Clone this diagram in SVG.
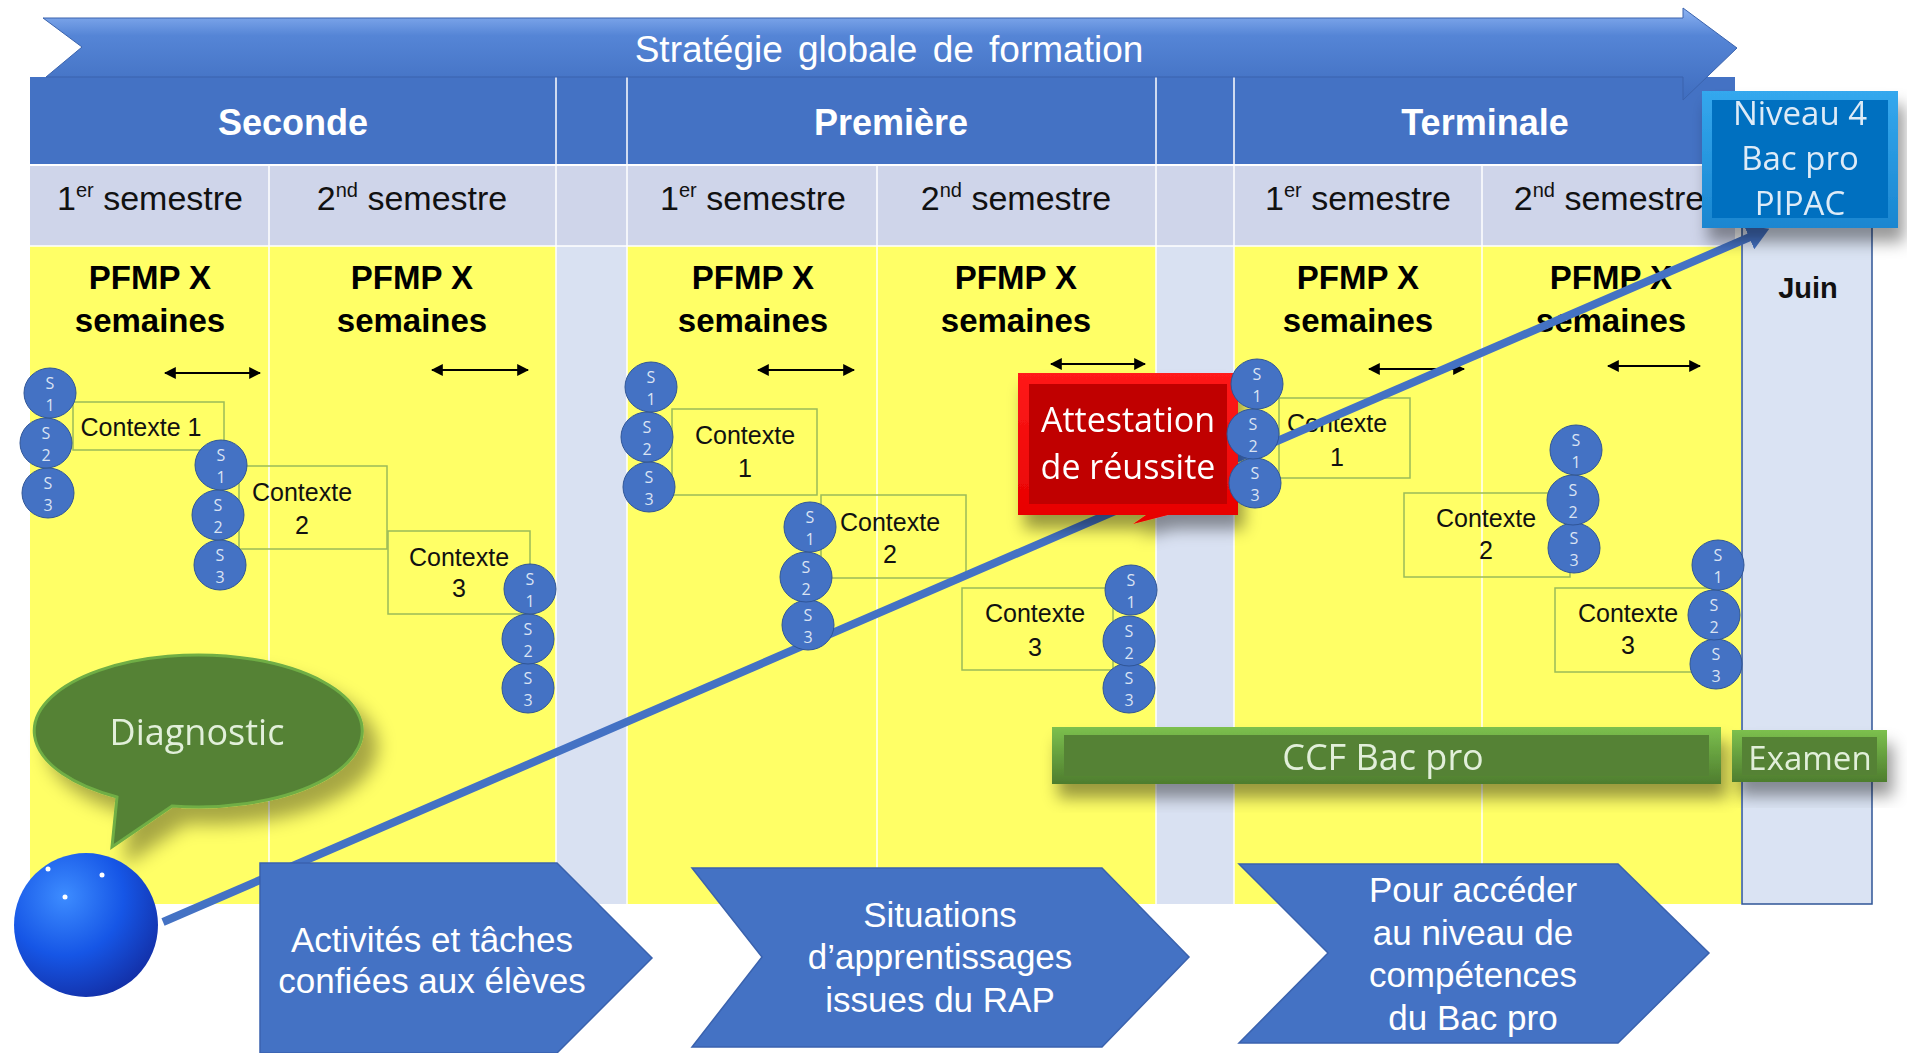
<svg xmlns="http://www.w3.org/2000/svg" width="1907" height="1053" viewBox="0 0 1907 1053">
<defs>
<style>
.sans{font-family:"Liberation Sans",Arial,sans-serif}
.geo{font-family:"Open Sans","DejaVu Sans",sans-serif}
.hdr{font-size:36px;font-weight:bold;fill:#fff;text-anchor:middle}
.sem{font-size:34px;fill:#111;text-anchor:middle}
.pfmp{font-size:33px;font-weight:bold;fill:#000;text-anchor:middle}
.ctx{fill:none;stroke:#9BBB59;stroke-width:1.5}
.ctxt{font-size:25px;fill:#111;text-anchor:middle}
.dbl{stroke:#000;stroke-width:2;marker-start:url(#ah);marker-end:url(#ah)}
.sc{fill:#4472C4;stroke:#2F5597;stroke-width:1}
.st{font-size:16px;fill:#DAE3F3;text-anchor:middle}
.chev{fill:#4472C4;stroke:#3A62AE;stroke-width:1.5}
.chevt{font-size:35px;fill:#fff;text-anchor:middle}
.wl{stroke:#fff;stroke-width:1.5}
</style>
<marker id="ah" viewBox="0 0 10 10" refX="9" refY="5" markerWidth="6" markerHeight="6" orient="auto-start-reverse" markerUnits="strokeWidth">
<path d="M0,0 L10,5 L0,10 z" fill="#000"/>
</marker>
<marker id="bh" viewBox="0 0 22 26" refX="1" refY="13" markerWidth="22" markerHeight="26" orient="auto" markerUnits="userSpaceOnUse">
<path d="M0,0 L22,13 L0,26 z" fill="#4472C4"/>
</marker>
<linearGradient id="gBan" x1="0" y1="0" x2="0" y2="1">
<stop offset="0" stop-color="#8DB3F2"/>
<stop offset="0.3" stop-color="#5585D6"/>
<stop offset="1" stop-color="#3F6DBF"/>
</linearGradient>
<radialGradient id="gBall" cx="0.35" cy="0.3" r="0.75">
<stop offset="0" stop-color="#3D8CFF"/>
<stop offset="0.55" stop-color="#1656E6"/>
<stop offset="1" stop-color="#1330A8"/>
</radialGradient>
<linearGradient id="gGreen" x1="0" y1="0" x2="0" y2="1">
<stop offset="0" stop-color="#7CC04E"/>
<stop offset="1" stop-color="#4E7D2E"/>
</linearGradient>
<linearGradient id="gRed" x1="0" y1="0" x2="0" y2="1">
<stop offset="0" stop-color="#FF1A1A"/>
<stop offset="1" stop-color="#E60000"/>
</linearGradient>
<linearGradient id="gNiv" x1="0" y1="0" x2="0" y2="1">
<stop offset="0" stop-color="#34A8EE"/>
<stop offset="1" stop-color="#1A86D0"/>
</linearGradient>
<filter id="sh" x="-20%" y="-30%" width="150%" height="180%">
<feDropShadow dx="6" dy="14" stdDeviation="8" flood-color="#000" flood-opacity="0.4"/>
</filter>
<filter id="shd" x="-20%" y="-30%" width="150%" height="180%">
<feDropShadow dx="14" dy="16" stdDeviation="9" flood-color="#000" flood-opacity="0.35"/>
</filter>
</defs>

<rect width="1907" height="1053" fill="#fff"/>

<g id="table">
<rect x="30" y="77" width="1705" height="87" fill="#4472C4"/>
<rect x="30" y="166" width="1705" height="80" fill="#CFD5EA"/>
<rect x="30" y="246" width="1711" height="658" fill="#FFFF66"/>
<rect x="556" y="246" width="71" height="658" fill="#D9E1F2"/>
<rect x="1156" y="246" width="78" height="658" fill="#D9E1F2"/>
<line class="wl" x1="30" y1="165" x2="1735" y2="165"/>
<line class="wl" x1="556" y1="77" x2="556" y2="904"/>
<line class="wl" x1="627" y1="77" x2="627" y2="904"/>
<line class="wl" x1="1156" y1="77" x2="1156" y2="904"/>
<line class="wl" x1="1234" y1="77" x2="1234" y2="904"/>
<line class="wl" x1="269" y1="166" x2="269" y2="904"/>
<line class="wl" x1="877" y1="166" x2="877" y2="904"/>
<line class="wl" x1="1482" y1="166" x2="1482" y2="904"/>
<line class="wl" x1="30" y1="246" x2="1735" y2="246"/>
</g>

<g id="juin">
<rect x="1742" y="200" width="130" height="704" fill="#DAE3F3" stroke="#2F5597" stroke-width="1.5"/>
<text class="sans" x="1808" y="298" font-size="29" font-weight="bold" text-anchor="middle" fill="#111">Juin</text>
</g>

<g id="banner">
<path d="M43 18 L1683 18 L1683 8 L1737 48 L1683 100 L1683 77 L46 77 L82 47 Z" fill="url(#gBan)" stroke="#3A63AD" stroke-width="1"/>
<text class="sans" x="889" y="62" font-size="37" fill="#fff" text-anchor="middle" word-spacing="5">Stratégie globale de formation</text>
</g>

<g id="headers">
<text class="sans hdr" x="293" y="135">Seconde</text>
<text class="sans hdr" x="891" y="135">Première</text>
<text class="sans hdr" x="1485" y="135">Terminale</text>
</g>

<g id="semestres">
<text class="sans sem" x="150" y="210">1<tspan font-size="20" dy="-13">er</tspan><tspan dy="13"> semestre</tspan></text>
<text class="sans sem" x="412" y="210">2<tspan font-size="20" dy="-13">nd</tspan><tspan dy="13"> semestre</tspan></text>
<text class="sans sem" x="753" y="210">1<tspan font-size="20" dy="-13">er</tspan><tspan dy="13"> semestre</tspan></text>
<text class="sans sem" x="1016" y="210">2<tspan font-size="20" dy="-13">nd</tspan><tspan dy="13"> semestre</tspan></text>
<text class="sans sem" x="1358" y="210">1<tspan font-size="20" dy="-13">er</tspan><tspan dy="13"> semestre</tspan></text>
<text class="sans sem" x="1609" y="210">2<tspan font-size="20" dy="-13">nd</tspan><tspan dy="13"> semestre</tspan></text>
</g>

<g id="pfmp">
<text class="sans pfmp" x="150" y="289">PFMP X</text><text class="sans pfmp" x="150" y="332">semaines</text>
<text class="sans pfmp" x="412" y="289">PFMP X</text><text class="sans pfmp" x="412" y="332">semaines</text>
<text class="sans pfmp" x="753" y="289">PFMP X</text><text class="sans pfmp" x="753" y="332">semaines</text>
<text class="sans pfmp" x="1016" y="289">PFMP X</text><text class="sans pfmp" x="1016" y="332">semaines</text>
<text class="sans pfmp" x="1358" y="289">PFMP X</text><text class="sans pfmp" x="1358" y="332">semaines</text>
<text class="sans pfmp" x="1611" y="289">PFMP X</text><text class="sans pfmp" x="1611" y="332">semaines</text>
</g>

<g id="durees">
<line class="dbl" x1="165" y1="373" x2="260" y2="373"/>
<line class="dbl" x1="432" y1="370" x2="528" y2="370"/>
<line class="dbl" x1="758" y1="370" x2="854" y2="370"/>
<line class="dbl" x1="1051" y1="364" x2="1145" y2="364"/>
<line class="dbl" x1="1369" y1="369" x2="1464" y2="369"/>
<line class="dbl" x1="1608" y1="366" x2="1700" y2="366"/>
</g>

<g id="contextes">
<rect class="ctx" x="73" y="402" width="151" height="48"/>
<text class="sans ctxt" x="141" y="436">Contexte  1</text>
<rect class="ctx" x="239" y="466" width="148" height="83"/>
<text class="sans ctxt" x="302" y="501">Contexte</text><text class="sans ctxt" x="302" y="534">2</text>
<rect class="ctx" x="388" y="531" width="142" height="83"/>
<text class="sans ctxt" x="459" y="566">Contexte</text><text class="sans ctxt" x="459" y="597">3</text>

<rect class="ctx" x="672" y="409" width="145" height="86"/>
<text class="sans ctxt" x="745" y="444">Contexte</text><text class="sans ctxt" x="745" y="477">1</text>
<rect class="ctx" x="821" y="495" width="145" height="83"/>
<text class="sans ctxt" x="890" y="531">Contexte</text><text class="sans ctxt" x="890" y="563">2</text>
<rect class="ctx" x="962" y="588" width="151" height="82"/>
<text class="sans ctxt" x="1035" y="622">Contexte</text><text class="sans ctxt" x="1035" y="656">3</text>

<rect class="ctx" x="1279" y="398" width="131" height="80"/>
<text class="sans ctxt" x="1337" y="432">Contexte</text><text class="sans ctxt" x="1337" y="466">1</text>
<rect class="ctx" x="1404" y="493" width="166" height="84"/>
<text class="sans ctxt" x="1486" y="527">Contexte</text><text class="sans ctxt" x="1486" y="559">2</text>
<rect class="ctx" x="1555" y="588" width="157" height="84"/>
<text class="sans ctxt" x="1628" y="622">Contexte</text><text class="sans ctxt" x="1628" y="654">3</text>
</g>

<g id="connectors">
<line x1="163" y1="922" x2="1750" y2="237" stroke="#4472C4" stroke-width="8" marker-end="url(#bh)"/>
</g>

<g id="situations">
<g id="s-sec-1"><ellipse class="sc" cx="48" cy="493" rx="26" ry="25"/><text class="geo st" x="48" y="489">S</text><text class="geo st" x="48" y="511">3</text>
<ellipse class="sc" cx="46" cy="443" rx="26" ry="25"/><text class="geo st" x="46" y="439">S</text><text class="geo st" x="46" y="461">2</text>
<ellipse class="sc" cx="50" cy="393" rx="26" ry="25"/><text class="geo st" x="50" y="389">S</text><text class="geo st" x="50" y="411">1</text></g>
<g id="s-sec-2"><ellipse class="sc" cx="220" cy="565" rx="26" ry="25"/><text class="geo st" x="220" y="561">S</text><text class="geo st" x="220" y="583">3</text>
<ellipse class="sc" cx="218" cy="515" rx="26" ry="25"/><text class="geo st" x="218" y="511">S</text><text class="geo st" x="218" y="533">2</text>
<ellipse class="sc" cx="221" cy="465" rx="26" ry="25"/><text class="geo st" x="221" y="461">S</text><text class="geo st" x="221" y="483">1</text></g>
<g id="s-sec-3"><ellipse class="sc" cx="528" cy="688" rx="26" ry="25"/><text class="geo st" x="528" y="684">S</text><text class="geo st" x="528" y="706">3</text>
<ellipse class="sc" cx="528" cy="639" rx="26" ry="25"/><text class="geo st" x="528" y="635">S</text><text class="geo st" x="528" y="657">2</text>
<ellipse class="sc" cx="530" cy="589" rx="26" ry="25"/><text class="geo st" x="530" y="585">S</text><text class="geo st" x="530" y="607">1</text></g>

<g id="s-pre-1"><ellipse class="sc" cx="649" cy="487" rx="26" ry="25"/><text class="geo st" x="649" y="483">S</text><text class="geo st" x="649" y="505">3</text>
<ellipse class="sc" cx="647" cy="437" rx="26" ry="25"/><text class="geo st" x="647" y="433">S</text><text class="geo st" x="647" y="455">2</text>
<ellipse class="sc" cx="651" cy="387" rx="26" ry="25"/><text class="geo st" x="651" y="383">S</text><text class="geo st" x="651" y="405">1</text></g>
<g id="s-pre-2"><ellipse class="sc" cx="808" cy="625" rx="26" ry="25"/><text class="geo st" x="808" y="621">S</text><text class="geo st" x="808" y="643">3</text>
<ellipse class="sc" cx="806" cy="577" rx="26" ry="25"/><text class="geo st" x="806" y="573">S</text><text class="geo st" x="806" y="595">2</text>
<ellipse class="sc" cx="810" cy="527" rx="26" ry="25"/><text class="geo st" x="810" y="523">S</text><text class="geo st" x="810" y="545">1</text></g>
<g id="s-pre-3"><ellipse class="sc" cx="1129" cy="688" rx="26" ry="25"/><text class="geo st" x="1129" y="684">S</text><text class="geo st" x="1129" y="706">3</text>
<ellipse class="sc" cx="1129" cy="641" rx="26" ry="25"/><text class="geo st" x="1129" y="637">S</text><text class="geo st" x="1129" y="659">2</text>
<ellipse class="sc" cx="1131" cy="590" rx="26" ry="25"/><text class="geo st" x="1131" y="586">S</text><text class="geo st" x="1131" y="608">1</text></g>
</g>

<g id="attestation" filter="url(#sh)">
<path d="M1018 373 H1238 V515 H1168 L1133 524 L1146 515 H1018 Z" fill="url(#gRed)"/>
<rect x="1029" y="384" width="198" height="120" fill="#C00000"/>
<text class="geo" x="1128" y="432" font-size="34" fill="#fff" text-anchor="middle">Attestation</text>
<text class="geo" x="1128" y="479" font-size="34" fill="#fff" text-anchor="middle">de réussite</text>
</g>

<g id="situations-terminale">
<g id="s-ter-1"><ellipse class="sc" cx="1255" cy="483" rx="26" ry="25"/><text class="geo st" x="1255" y="479">S</text><text class="geo st" x="1255" y="501">3</text>
<ellipse class="sc" cx="1253" cy="434" rx="26" ry="25"/><text class="geo st" x="1253" y="430">S</text><text class="geo st" x="1253" y="452">2</text>
<ellipse class="sc" cx="1257" cy="384" rx="26" ry="25"/><text class="geo st" x="1257" y="380">S</text><text class="geo st" x="1257" y="402">1</text></g>
<g id="s-ter-2"><ellipse class="sc" cx="1574" cy="548" rx="26" ry="25"/><text class="geo st" x="1574" y="544">S</text><text class="geo st" x="1574" y="566">3</text>
<ellipse class="sc" cx="1573" cy="500" rx="26" ry="25"/><text class="geo st" x="1573" y="496">S</text><text class="geo st" x="1573" y="518">2</text>
<ellipse class="sc" cx="1576" cy="450" rx="26" ry="25"/><text class="geo st" x="1576" y="446">S</text><text class="geo st" x="1576" y="468">1</text></g>
<g id="s-ter-3"><ellipse class="sc" cx="1716" cy="664" rx="26" ry="25"/><text class="geo st" x="1716" y="660">S</text><text class="geo st" x="1716" y="682">3</text>
<ellipse class="sc" cx="1714" cy="615" rx="26" ry="25"/><text class="geo st" x="1714" y="611">S</text><text class="geo st" x="1714" y="633">2</text>
<ellipse class="sc" cx="1718" cy="565" rx="26" ry="25"/><text class="geo st" x="1718" y="561">S</text><text class="geo st" x="1718" y="583">1</text></g>
</g>

<g id="ccf" filter="url(#sh)">
<rect x="1052" y="727" width="669" height="57" fill="url(#gGreen)"/>
<rect x="1064" y="735" width="645" height="41" fill="#548235"/>
<text class="geo" x="1383" y="770" font-size="36" fill="#E2EFDA" text-anchor="middle">CCF Bac pro</text>
</g>
<g id="examen" filter="url(#sh)">
<rect x="1732" y="730" width="155" height="52" fill="url(#gGreen)"/>
<rect x="1742" y="737" width="135" height="38" fill="#548235"/>
<text class="geo" x="1810" y="770" font-size="33" fill="#E2EFDA" text-anchor="middle">Examen</text>
</g>

<g id="niveau" filter="url(#sh)">
<rect x="1702" y="91" width="196" height="137" fill="url(#gNiv)"/>
<rect x="1712" y="100" width="176" height="118" fill="#0070C0"/>
<text class="geo" x="1800" y="125" font-size="33" fill="#DEEBF7" text-anchor="middle">Niveau 4</text>
<text class="geo" x="1800" y="170" font-size="33" fill="#DEEBF7" text-anchor="middle">Bac pro</text>
<text class="geo" x="1800" y="215" font-size="33" fill="#DEEBF7" text-anchor="middle">PIPAC</text>
</g>

<g id="diagnostic" filter="url(#shd)">
<path d="M172 806 A164 76 0 1 0 117 797 L112 847 Z" fill="#548235" stroke="#6FAE45" stroke-width="3"/>
<text class="geo" x="197" y="745" font-size="36" fill="#E2EFDA" text-anchor="middle">Diagnostic</text>
</g>

<g id="chevrons">
<g id="chev-1"><path class="chev" d="M260 863 H557 L652 958 L557 1053 H260 Z"/>
<text class="sans chevt" x="432" y="952">Activités et tâches</text>
<text class="sans chevt" x="432" y="993">confiées aux élèves</text></g>
<g id="chev-2"><path class="chev" d="M692 868 H1102 L1189 957 L1102 1047 H692 L762 957 Z"/>
<text class="sans chevt" x="940" y="927">Situations</text>
<text class="sans chevt" x="940" y="969">d’apprentissages</text>
<text class="sans chevt" x="940" y="1012">issues du RAP</text></g>
<g id="chev-3"><path class="chev" d="M1239 864 H1618 L1709 953 L1618 1043 H1239 L1328 953 Z"/>
<text class="sans chevt" x="1473" y="902">Pour accéder</text>
<text class="sans chevt" x="1473" y="945">au niveau de</text>
<text class="sans chevt" x="1473" y="987">compétences</text>
<text class="sans chevt" x="1473" y="1030">du Bac pro</text></g>
</g>

<g id="ball">
<circle cx="86" cy="925" r="72" fill="url(#gBall)"/>
<circle cx="48" cy="869" r="2.5" fill="#fff"/>
<circle cx="102" cy="875" r="2.5" fill="#fff"/>
<circle cx="65" cy="897" r="2.5" fill="#fff"/>
</g>
</svg>
